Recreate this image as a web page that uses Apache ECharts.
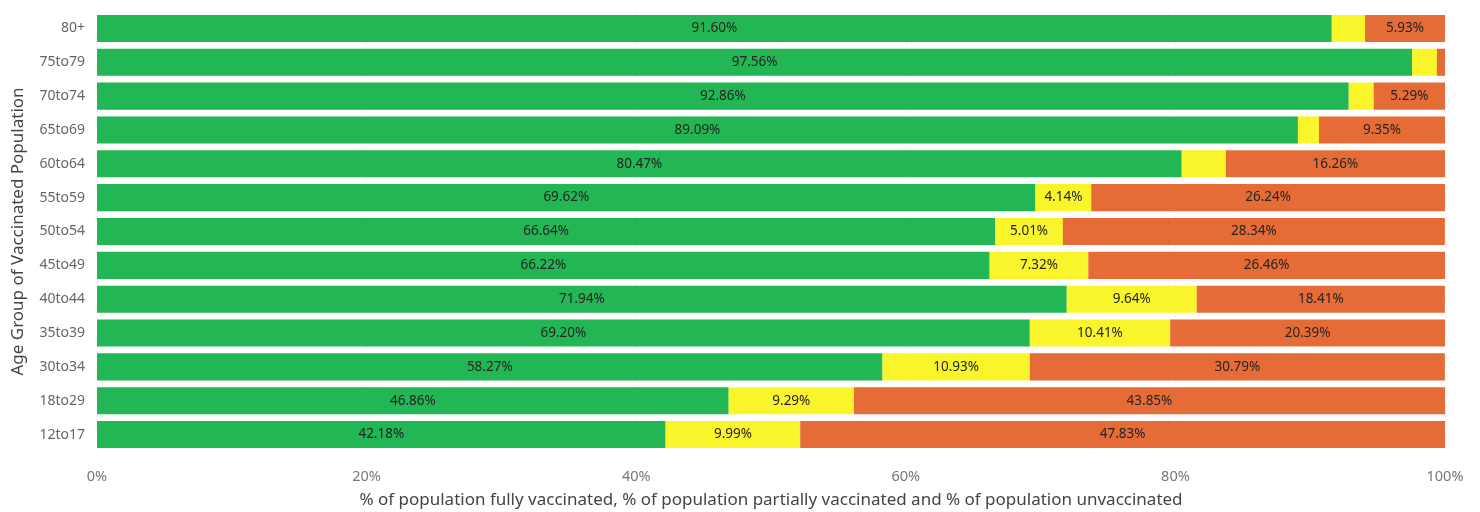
<!DOCTYPE html>
<html><head><meta charset="utf-8">
<script src="https://cdn.jsdelivr.net/npm/echarts@6/dist/echarts.min.js"></script>
<style>html,body{margin:0;padding:0;background:#fff}#c{width:1480px;height:512px}</style>
</head><body><div id="c"></div>
<script>
const categories = ["12to17","18to29","30to34","35to39","40to44","45to49","50to54","55to59","60to64","65to69","70to74","75to79","80+"];
const fullyVaccinated = [42.18,46.86,58.27,69.20,71.94,66.22,66.64,69.62,80.47,89.09,92.86,97.56,91.60];
const partiallyVaccinated = [9.99,9.29,10.93,10.41,9.64,7.32,5.01,4.14,3.27,1.56,1.85,1.84,2.47];
const unvaccinated = [47.83,43.85,30.79,20.39,18.41,26.46,28.34,26.24,16.26,9.35,5.29,0.60,5.93];
const xTicks = [0,20,40,60,80,100];

const font = '"Segoe UI","Noto Sans","Open Sans",sans-serif';
function mk(name, data, color){
  return {
    name, type:'bar', stack:'total', data, barWidth:'80%',
    itemStyle:{color},
    label:{show:true, position:'inside', color:'#252423', fontFamily:font, fontSize:13.5,
      formatter:p=> p.value>=4 ? p.value.toFixed(2)+'%' : ''}
  };
}
const chart = echarts.init(document.getElementById('c'));
chart.setOption({
  animation:false,
  grid:{left:97,right:35,top:11.5,bottom:60.5,containLabel:false,outerBoundsMode:'none'},
  xAxis:{type:'value',min:0,max:100,interval:20,
    axisLabel:{formatter:v=>v+'%',color:'#777',fontFamily:font,fontSize:14.5,margin:18},
    splitLine:{show:true,lineStyle:{color:'#ddd',type:[1,4]}},
    axisLine:{show:false},axisTick:{show:false},
    name:'% of population fully vaccinated, % of population partially vaccinated and % of population unvaccinated',
    nameLocation:'middle',nameGap:40,nameMoveOverlap:false,
    nameTextStyle:{color:'#444',fontFamily:font,fontSize:17}
  },
  yAxis:{type:'category',data:categories,
    axisLabel:{color:'#666',fontFamily:font,fontSize:14,margin:12},
    axisLine:{show:false},axisTick:{show:false},
    name:'Age Group of Vaccinated Population',nameLocation:'middle',nameGap:70,nameMoveOverlap:false,
    nameTextStyle:{color:'#444',fontFamily:font,fontSize:17}
  },
  series:[
    mk('Fully',fullyVaccinated,'#22B654'),
    mk('Partially',partiallyVaccinated,'#F9F52A'),
    mk('Unvaccinated',unvaccinated,'#E66C37')
  ]
});
</script></body></html>
